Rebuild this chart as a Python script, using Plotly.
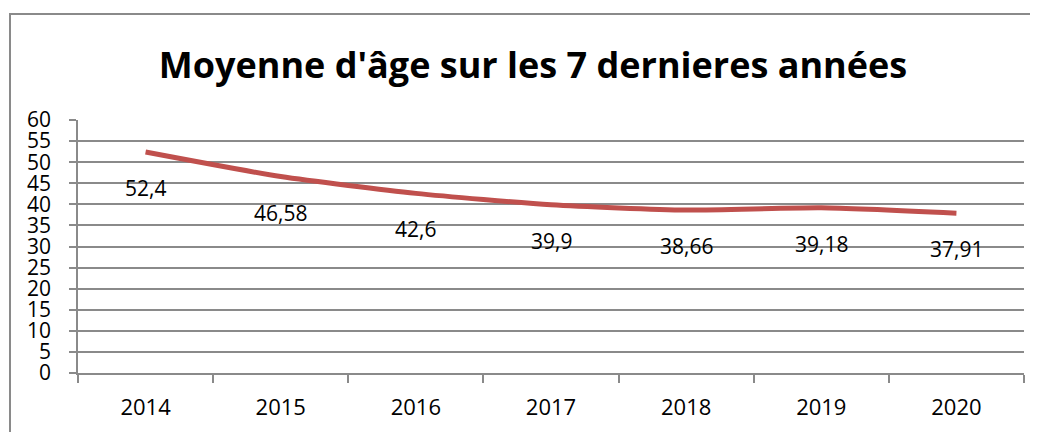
import plotly.graph_objects as go

years = ["2014", "2015", "2016", "2017", "2018", "2019", "2020"]
ages = [52.4, 46.58, 42.6, 39.9, 38.66, 39.18, 37.91]
labels = [str(v).replace(".", ",") for v in ages]
title_text = "Moyenne d'âge sur les 7 dernieres années"

W, H = 1038, 432
OFF = 8  # page body margin
L, R, T, B = 78 - OFF, 14 + OFF, 120 - OFF, 59 + OFF

fig = go.Figure()
fig.add_trace(go.Scatter(
    x=years, y=ages, mode="lines",
    line=dict(color="#C0504D", width=5, shape="spline", smoothing=0.6),
    hoverinfo="skip", showlegend=False,
))
for i, (v, lab) in enumerate(zip(ages, labels)):
    fig.add_annotation(x=i, y=v, text=lab, showarrow=False, yshift=-36,
                       font=dict(family="Open Sans", size=21, color="#000"))

pw = W - L - R
ph = H - T - B
# chart border (in page pixels: left 10, top 14)
fig.add_shape(type="rect", xref="paper", yref="paper",
              x0=(10 - 78) / pw, x1=(1060 - 78) / pw,
              y0=(373 - 460) / ph, y1=(373 - 14) / ph,
              line=dict(color="#8a8a8a", width=2), fillcolor="rgba(0,0,0,0)", layer="below")

fig.update_layout(
    width=W, height=H,
    margin=dict(l=L, r=R, t=T, b=B),
    paper_bgcolor="white", plot_bgcolor="white",
    title=dict(text="<b>" + title_text + "</b>", x=(533 - OFF) / W, xanchor="center",
               y=1 - (65 - OFF) / H, yanchor="middle", yref="container",
               font=dict(family="Open Sans", size=36, color="#000")),
    xaxis=dict(type="category", range=[-0.5, len(years) - 0.5], autorange=False,
               tickson="boundaries", ticks="outside", ticklen=8,
               tickcolor="#8a8a8a", tickwidth=1.5, showline=True, linecolor="#8a8a8a",
               linewidth=1.5, showgrid=False, tickangle=0,
               tickfont=dict(family="Open Sans", size=22, color="#000"),
               ticklabelstandoff=14),
    yaxis=dict(range=[0, 60], autorange=False, dtick=5, tick0=0, ticks="outside", ticklen=7,
               tickcolor="#8a8a8a", tickwidth=1.5, showline=True, linecolor="#8a8a8a",
               linewidth=1.5, gridcolor="#8a8a8a", gridwidth=1.5, zeroline=False,
               tickfont=dict(family="Open Sans", size=21, color="#000"),
               ticklabelstandoff=14),
)

fig.write_html("out.html")
